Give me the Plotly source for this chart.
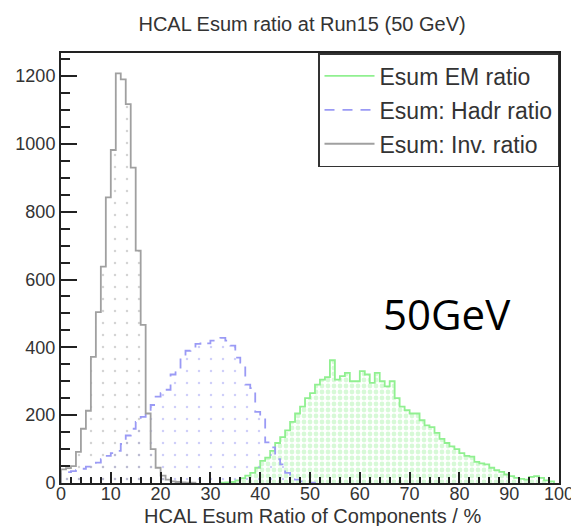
import plotly.graph_objects as go

# Bin lower edges (%), 1% bins from 0 to 100
bin_edges = list(range(0, 101))

# Esum: Inv. ratio (grey, dotted fill)
inv_counts = [40, 44, 50, 92, 160, 213, 372, 504, 638, 842,
              982, 1208, 1190, 1117, 930, 685, 466, 205, 100, 45,
              22, 10, 5, 3, 2, 1, 1, 0, 0, 0] + [0] * 70

# Esum: Hadr ratio (blue dashed, dotted fill)
hadr_counts = [30, 32, 35, 38, 42, 48, 55, 60, 70, 80,
               88, 95, 115, 140, 160, 180, 195, 210, 230, 255,
               265, 275, 320, 330, 375, 390, 395, 410, 415, 412,
               420, 425, 428, 420, 405, 370, 355, 290, 280, 210,
               195, 120, 105, 70, 55, 30, 15, 10, 5, 2,
               1] + [0] * 49

# Esum EM ratio (light green, checker fill)
em_counts = [0] * 32 + [1, 2, 3, 8, 14, 22, 30, 45,
             65, 75, 95, 118, 135, 155, 180, 205, 225, 250,
             265, 290, 305, 312, 362, 305, 315, 325, 300, 300,
             330, 320, 295, 325, 300, 285, 300, 250, 225, 215,
             205, 205, 185, 170, 165, 148, 130, 118, 108, 100,
             88, 80, 78, 62, 58, 55, 45, 38, 33, 25,
             20, 15, 12, 10, 18, 20, 15, 8, 5, 0]

names = ["Esum EM ratio", "Esum: Hadr ratio", "Esum: Inv. ratio"]
line_colors = ["#90f090", "#9a9af5", "#a0a0a0"]
dashes = ["solid", "10px,8px", "solid"]

TXT = "#333333"
FONT = "Liberation Sans, Arial, sans-serif"


def step_xy(counts):
    nz = [i for i, c in enumerate(counts) if c > 0]
    lo, hi = nz[0], nz[-1] + 1
    xs = [bin_edges[lo]] + bin_edges[lo:hi] + [bin_edges[hi], bin_edges[hi]]
    ys = [0] + list(counts[lo:hi]) + [counts[hi - 1], 0]
    return xs, ys


fig = go.Figure()

hists = [em_counts, hadr_counts, inv_counts]
patterns = [
    dict(shape=".", fgcolor="#b0f4b0", bgcolor="rgba(0,0,0,0)", size=6, solidity=0.5),
    dict(shape=".", fgcolor="#9d9df2", bgcolor="rgba(0,0,0,0)", size=12, solidity=0.035),
    dict(shape=".", fgcolor="#a8a8a8", bgcolor="rgba(0,0,0,0)", size=12, solidity=0.035),
]

for counts, name, col, dash, pat in zip(hists, names, line_colors, dashes, patterns):
    xs, ys = step_xy(counts)
    fig.add_trace(go.Scatter(
        x=xs, y=ys, mode="lines", line=dict(shape="hv", color=col, width=1.8, dash=dash),
        fill="tozeroy", fillcolor="rgba(0,0,0,0)", fillpattern=pat,
        showlegend=False, hoverinfo="skip"))

# legend-only entries (line samples)
for i, (name, col, dash) in enumerate(zip(names, line_colors, dashes)):
    fig.add_trace(go.Scatter(
        x=[None], y=[None], mode="lines", name=name, legendgroup=f"g{i}",
        line=dict(color=col, width=1.8, dash=dash)))

fig.add_annotation(x=77.5, y=500, xref="x", yref="y", text="50GeV", showarrow=False,
                   font=dict(family="Open Sans, sans-serif", size=42, color="black"))

# x-axis title placed as a paper annotation below the tick labels
fig.add_annotation(x=0.505, y=-0.076, xref="paper", yref="paper",
                   text="HCAL Esum Ratio of Components / %", showarrow=False,
                   xanchor="center", yanchor="middle",
                   font=dict(family=FONT, size=20, color=TXT))

fig.update_layout(
    width=571, height=526,
    margin=dict(l=61, r=12, t=53, b=43),
    paper_bgcolor="white", plot_bgcolor="white",
    title=dict(text="HCAL Esum ratio at Run15 (50 GeV)", x=0.529, y=0.955,
               xanchor="center", yanchor="middle",
               font=dict(family=FONT, size=20, color=TXT)),
    legend=dict(x=1, y=1, xanchor="right", yanchor="top", bgcolor="white",
                bordercolor="#333333", borderwidth=1.5, tracegroupgap=1,
                itemwidth=50,
                font=dict(family=FONT, size=23, color=TXT)),
    font=dict(family=FONT, color=TXT),
)

fig.update_xaxes(range=[0, 100], tickmode="array", tickvals=list(range(0, 101, 10)),
                 ticks="inside", ticklen=11, tickwidth=1.5, tickcolor="#222",
                 minor=dict(ticks="inside", ticklen=6, tickwidth=1.5, dtick=2, tickcolor="#222"),
                 showline=True, linecolor="#222", linewidth=2, mirror=True,
                 showgrid=False, zeroline=False, ticklabeloverflow="allow",
                 ticklabelstandoff=-7, automargin=False,
                 tickfont=dict(family=FONT, size=18, color=TXT))
fig.update_yaxes(range=[0, 1268], tickmode="linear", tick0=0, dtick=200,
                 ticks="inside", ticklen=16, tickwidth=1.5, tickcolor="#222",
                 minor=dict(ticks="inside", ticklen=9, tickwidth=1.5, dtick=50, tickcolor="#222"),
                 showline=True, linecolor="#222", linewidth=2, mirror=True,
                 showgrid=False, zeroline=False, automargin=False,
                 tickfont=dict(family=FONT, size=18, color=TXT))

fig.write_html("out.html")
